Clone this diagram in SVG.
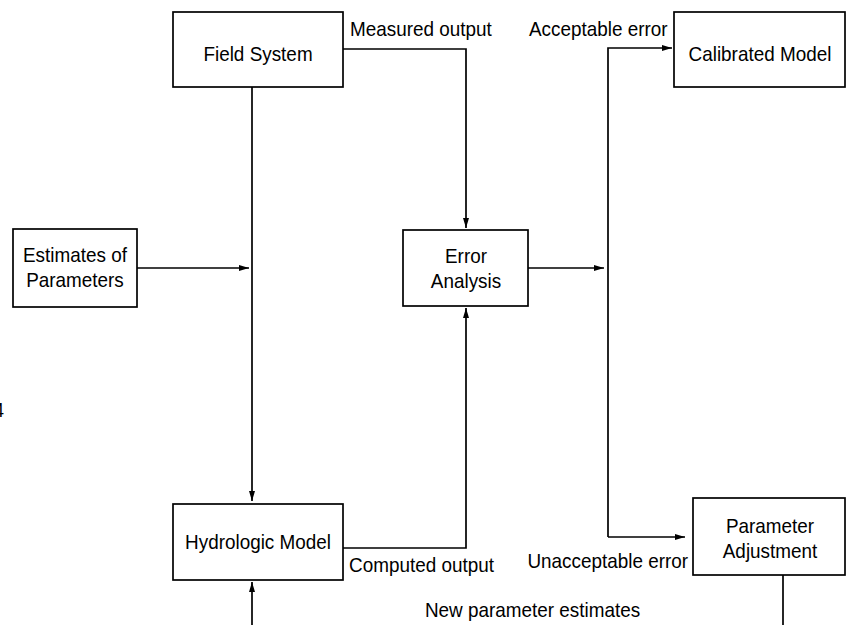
<svg xmlns="http://www.w3.org/2000/svg" width="850" height="625" viewBox="0 0 850 625">
<style>
.box{fill:#fff;stroke:#000;stroke-width:1.7}
.ln{fill:none;stroke:#000;stroke-width:1.7}
text{font-family:"Liberation Sans",Arial,sans-serif;font-size:21px;fill:#000}
.c{text-anchor:middle}
</style>
<defs>
<marker id="ah" viewBox="0 0 10 6" refX="10" refY="3" markerWidth="10" markerHeight="6" markerUnits="userSpaceOnUse" orient="auto">
<path d="M0,0 L10,3 L0,6 Z" fill="#000"/>
</marker>
</defs>
<rect width="850" height="625" fill="#fff"/>
<g id="connectors">
<path class="ln" d="M252,87 V501" marker-end="url(#ah)"/>
<path class="ln" d="M137,268 H249" marker-end="url(#ah)"/>
<path class="ln" d="M343,49 H466 V228" marker-end="url(#ah)"/>
<path class="ln" d="M343,548 H466 V308" marker-end="url(#ah)"/>
<path class="ln" d="M528,268 H604" marker-end="url(#ah)"/>
<path class="ln" d="M608,537 V48 H672" marker-end="url(#ah)"/>
<path class="ln" d="M608,537 H685" marker-end="url(#ah)"/>
<path class="ln" d="M252,625 V582" marker-end="url(#ah)"/>
<path class="ln" d="M783,575 V625"/>
</g>
<g id="labels" transform="scale(0.9 1)">
<text x="388.9" y="36">Measured output</text>
<text x="587.8" y="36">Acceptable error</text>
<text x="387.8" y="572">Computed output</text>
<text x="586" y="568">Unacceptable error</text>
<text x="472.2" y="617">New parameter estimates</text>
<text x="-7.2" y="417">4</text>
</g>
<g id="field-system">
<rect class="box" x="173" y="12" width="170" height="75"/>
<text class="c" transform="scale(0.9 1)" x="286.7" y="61">Field System</text>
</g>
<g id="calibrated-model">
<rect class="box" x="674" y="12" width="171" height="75"/>
<text class="c" transform="scale(0.9 1)" x="844.4" y="61">Calibrated Model</text>
</g>
<g id="estimates-of-parameters">
<rect class="box" x="13" y="229" width="124" height="78"/>
<text class="c" transform="scale(0.9 1)" x="83.3" y="262">Estimates of</text>
<text class="c" transform="scale(0.9 1)" x="83.3" y="287">Parameters</text>
</g>
<g id="error-analysis">
<rect class="box" x="403" y="230" width="125" height="76"/>
<text class="c" transform="scale(0.9 1)" x="517.8" y="263">Error</text>
<text class="c" transform="scale(0.9 1)" x="517.8" y="288">Analysis</text>
</g>
<g id="hydrologic-model">
<rect class="box" x="173" y="504" width="170" height="76"/>
<text class="c" transform="scale(0.9 1)" x="286.7" y="549">Hydrologic Model</text>
</g>
<g id="parameter-adjustment">
<rect class="box" x="693" y="498" width="152" height="77"/>
<text class="c" transform="scale(0.9 1)" x="855.6" y="533">Parameter</text>
<text class="c" transform="scale(0.9 1)" x="855.6" y="558">Adjustment</text>
</g>
</svg>
